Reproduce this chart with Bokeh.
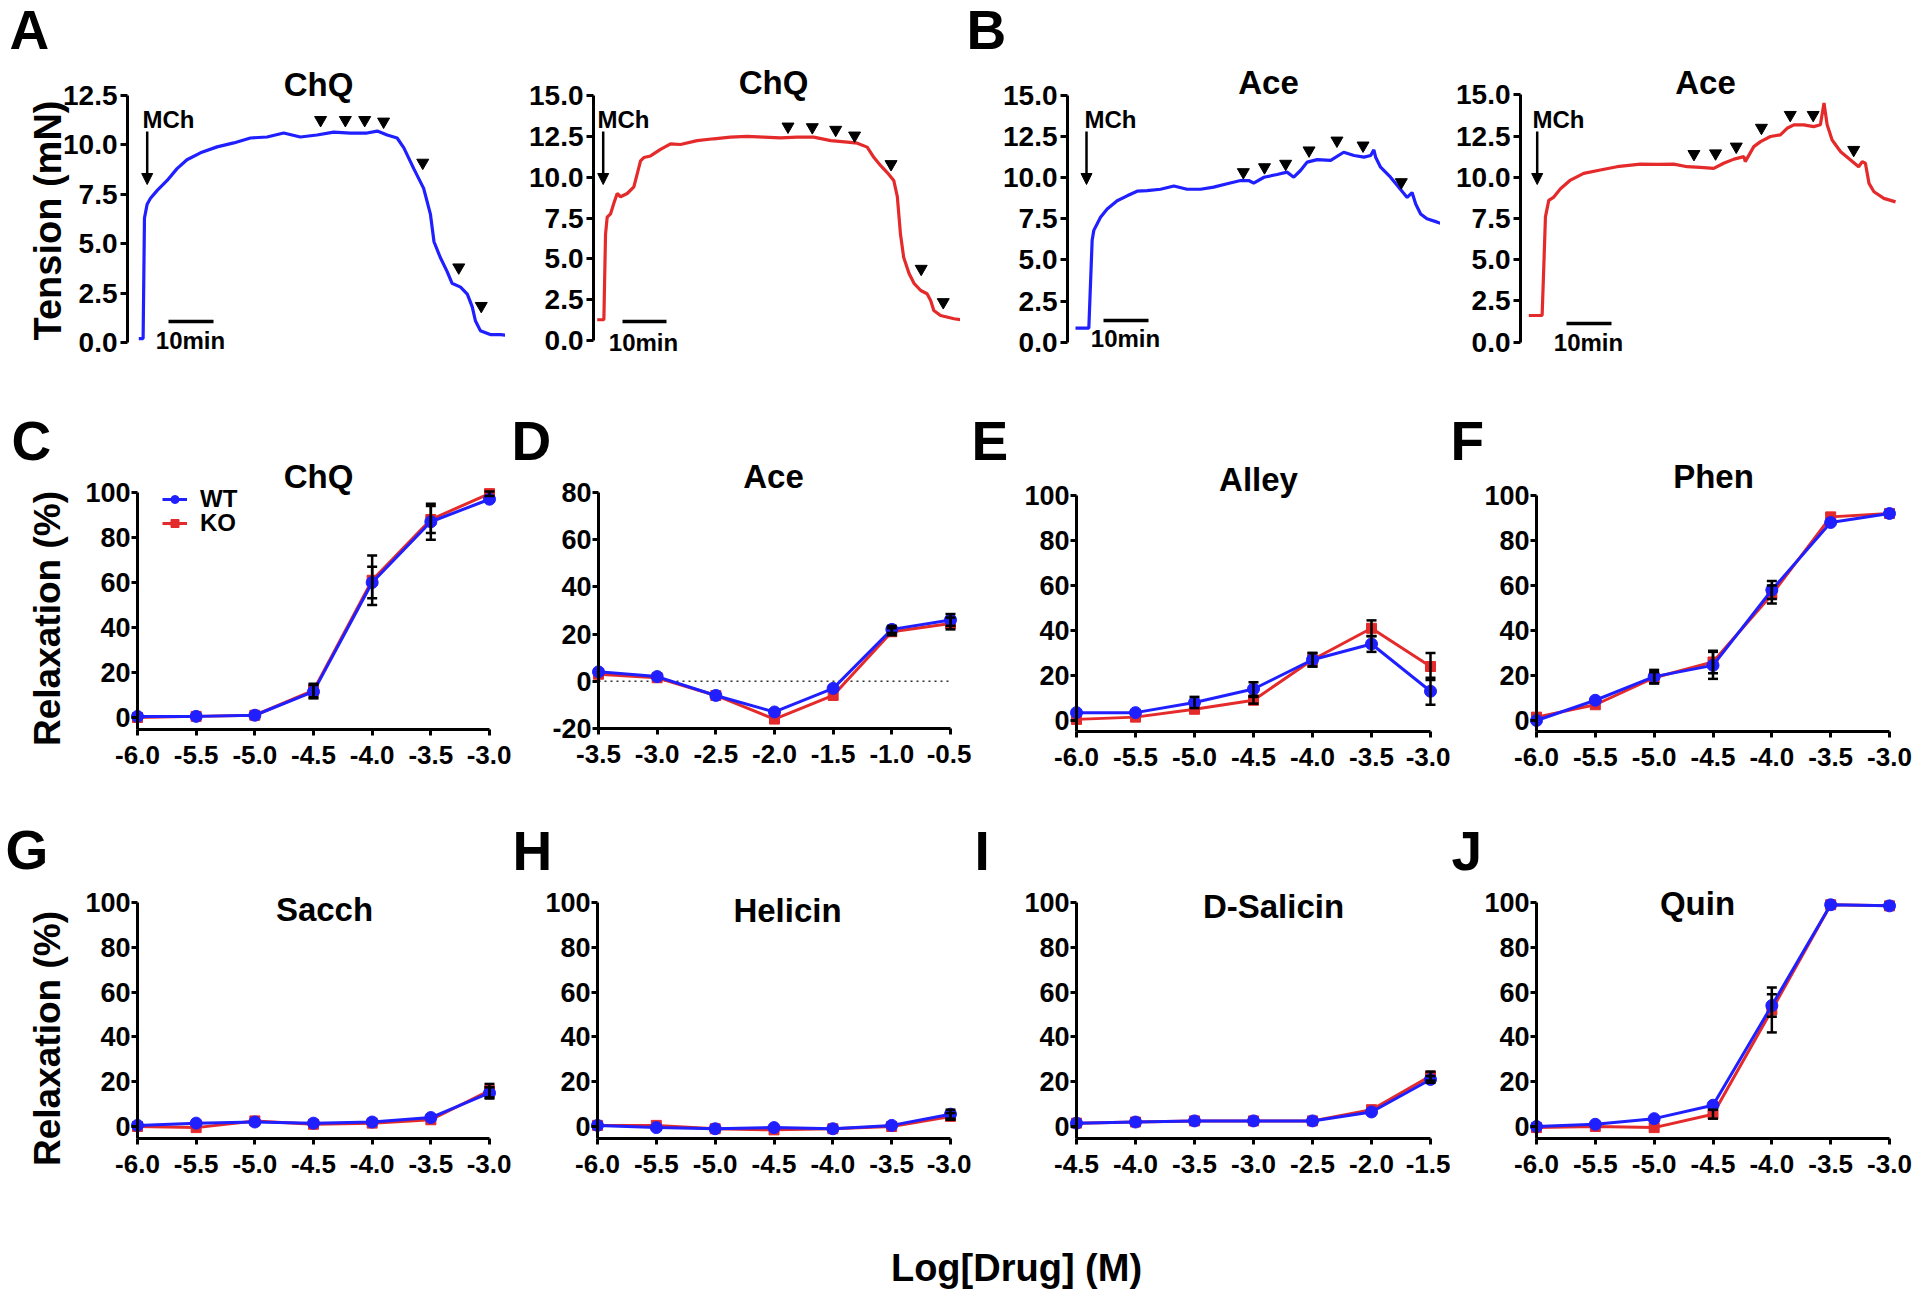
import math
from bokeh.plotting import figure
from bokeh.layouts import row, column
from bokeh.models import (Range1d, LinearAxis, FixedTicker, PrintfTickFormatter, Label, Arrow,
                          NormalHead, Whisker, TeeHead, ColumnDataSource, Legend, LegendItem)
from bokeh.embed import file_html
from bokeh.resources import INLINE

FONT = "Liberation Sans"
BLUE = "#1f1fff"
RED = "#e42a2a"

# ---------------- DATA: isometric tension traces (time in min, tension in mN) ----------------
A1_t = [0, 0.96, 1.26, 1.85, 2.6, 4.1, 6.3, 8.5, 10.7, 13.7, 17.4, 21.1, 24.8, 28.5, 32.2, 35.9,
        39.6, 43.3, 47.0, 50.7, 53.0, 55.2, 57.4, 58.9, 61.1, 63.3, 64.8, 65.6, 67.0, 68.5, 69.6,
        71.5, 73.0, 74.1, 74.8, 75.9, 78.1, 80.4, 82.6]
A1_v = [0.2, 0.2, 6.3, 7.0, 7.3, 7.7, 8.2, 8.8, 9.25, 9.6, 9.9, 10.1, 10.35, 10.4, 10.6, 10.4,
        10.5, 10.65, 10.6, 10.6, 10.7, 10.5, 10.35, 9.85, 8.8, 7.8, 6.5, 5.1, 4.3, 3.6, 3.0,
        2.8, 2.45, 1.8, 1.1, 0.6, 0.4, 0.4, 0.35]
A1_add_t = [40.4, 45.9, 50.2, 54.4, 63.1, 71.1, 76.1]
A1_add_v = [11.26, 11.26, 11.26, 11.18, 9.1, 3.8, 1.85]

A2_t = [0, 1.48, 1.85, 2.22, 2.96, 3.7, 4.44, 5.19, 6.67, 8.15, 9.63, 10.37, 11.85, 14.07, 16.3,
        18.5, 22.2, 25.9, 29.6, 33.3, 37.0, 40.7, 44.4, 48.1, 51.9, 55.6, 57.8, 60.0, 61.5, 63.0,
        64.4, 65.9, 66.7, 67.4, 68.1, 69.3, 70.4, 71.9, 73.3, 74.1, 74.8, 76.3, 79.3, 82.2]
A2_v = [1.27, 1.27, 6.5, 7.55, 7.75, 8.4, 9.0, 8.8, 9.0, 9.4, 11.0, 11.2, 11.3, 11.7, 12.04,
        12.0, 12.24, 12.35, 12.45, 12.5, 12.45, 12.4, 12.45, 12.45, 12.24, 12.14, 12.08, 11.84, 11.2, 10.7,
        10.3, 9.8, 8.8, 6.5, 5.1, 4.1, 3.5, 3.06, 2.86, 2.45, 1.84, 1.53, 1.33, 1.22]
A2_add_t = [42.4, 47.8, 53.0, 57.2, 65.3, 72.0, 76.9]
A2_add_v = [13.1, 13.06, 12.9, 12.55, 10.8, 4.39, 2.35]

B1_t = [0, 2.96, 3.7, 4.07, 5.56, 7.04, 9.26, 11.48, 13.7, 15.9, 18.9, 21.85, 24.8, 27.8, 30.7,
        33.7, 36.7, 38.5, 39.6, 41.9, 44.8, 47.0, 48.5, 50.0, 51.5, 53.7, 56.7, 59.6, 61.9, 64.1,
        65.6, 66.3, 66.7, 67.8, 70.0, 72.2, 73.7, 74.8, 75.6, 76.7, 78.1, 80.4, 81.9]
B1_v = [0.85, 0.85, 6.2, 6.8, 7.6, 8.1, 8.6, 8.9, 9.18, 9.22, 9.3, 9.5, 9.3, 9.3, 9.43,
        9.63, 9.83, 9.83, 9.67, 10.03, 10.2, 10.34, 10.03, 10.44, 10.95, 11.1, 11.05, 11.55, 11.35, 11.25,
        11.35, 11.7, 11.25, 10.64, 10.03, 9.3, 8.8, 9.1, 8.4, 7.8, 7.5, 7.3, 7.15]
B1_add_t = [37.3, 42.0, 46.7, 51.9, 58.1, 63.9, 72.4]
B1_add_v = [10.34, 10.64, 10.85, 11.66, 12.26, 11.96, 9.73]

B2_t = [0, 2.96, 3.33, 3.7, 4.44, 5.56, 7.04, 9.26, 12.2, 15.9, 19.6, 24.8, 28.5, 32.2, 35.2,
        38.1, 41.1, 43.3, 45.6, 47.8, 48.1, 50.0, 51.5, 53.7, 55.9, 57.4, 58.9, 61.1, 63.3, 64.8,
        65.6, 66.3, 67.4, 69.3, 71.5, 73.3, 74.1, 74.8, 75.6, 76.7, 78.9, 81.5]
B2_v = [1.62, 1.62, 4.56, 7.6, 8.6, 8.8, 9.3, 9.83, 10.24, 10.44, 10.64, 10.8, 10.78, 10.8, 10.64,
        10.6, 10.54, 10.85, 11.1, 11.25, 10.95, 11.86, 12.16, 12.47, 12.57, 12.97, 13.18, 13.18, 13.07, 13.18,
        14.5, 13.18, 12.26, 11.55, 11.05, 10.64, 10.95, 10.85, 9.63, 9.12, 8.72, 8.51]
B2_add_t = [36.7, 41.5, 46.1, 51.7, 58.1, 63.2, 72.2]
B2_add_v = [11.41, 11.45, 11.86, 13.0, 13.78, 13.78, 11.66]

TENSION_TICKS_125 = [0.0, 2.5, 5.0, 7.5, 10.0, 12.5]
TENSION_TICKS_15 = [0.0, 2.5, 5.0, 7.5, 10.0, 12.5, 15.0]

# ---------------- DATA: concentration-response (Log[Drug] M vs Relaxation %) ----------------
X_6_3 = [-6.0, -5.5, -5.0, -4.5, -4.0, -3.5, -3.0]
X_ACE = [-3.5, -3.0, -2.5, -2.0, -1.5, -1.0, -0.5]
X_SAL = [-4.5, -4.0, -3.5, -3.0, -2.5, -2.0, -1.5]
Y_TICKS = [0, 20, 40, 60, 80, 100]
Y_TICKS_ACE = [-20, 0, 20, 40, 60, 80]

C_WT = [0.5, 0.5, 1.0, 11.5, 60, 87, 97]
C_KO = [0.0, 0.5, 1.0, 12.0, 61, 88, 99.5]
C_WT_err = [0, 0, 0, 3, 7, 8, 0]
C_KO_err = [0, 0, 0, 3, 11, 6, 1]

D_WT = [4, 2, -6, -13, -3, 22, 26]
D_KO = [3, 1.5, -6, -16, -6, 21, 24.5]
D_WT_err = [0, 0, 0, 0, 0, 1.5, 2.5]
D_KO_err = [0, 0, 0, 0, 0, 1.5, 2.5]

E_WT = [3.5, 3.5, 8, 14, 27, 34, 13]
E_KO = [0.5, 1.5, 5, 9, 27, 41, 24]
E_WT_err = [0, 0, 2.5, 3, 3, 3.5, 6]
E_KO_err = [0, 0, 0, 1.5, 3, 3.5, 6]

F_WT = [0, 9, 19.5, 24.5, 58, 88, 92]
F_KO = [1.5, 7, 19, 26, 56, 90.5, 92]
F_WT_err = [0, 0, 3, 6, 4, 0, 0]
F_KO_err = [0, 0, 2.5, 5, 4, 0, 0]

G_WT = [0.5, 1.5, 2, 1.5, 2, 4, 15]
G_KO = [0, -0.5, 2.5, 1, 1.5, 3, 16]
G_WT_err = [0, 0, 0, 0, 0, 0, 2.5]
G_KO_err = [0, 0, 0, 0, 0, 0, 3]

H_WT = [0.5, -0.5, -1, -0.5, -1, 0.5, 5.5]
H_KO = [0.5, 0.5, -1, -1.5, -1, 0, 4.5]
H_WT_err = [0, 0, 0, 0, 0, 0, 2]
H_KO_err = [0, 0, 0, 0, 0, 0, 1.5]

I_WT = [1.5, 2, 2.5, 2.5, 2.5, 6.5, 21]
I_KO = [1.5, 2, 2.5, 2.5, 2.5, 7.5, 22.5]
I_WT_err = [0, 0, 0, 0, 0, 0, 1.5]
I_KO_err = [0, 0, 0, 0, 0, 0, 2]

J_WT = [0, 1, 3.5, 9.5, 54, 99, 98.5]
J_KO = [-0.5, 0, -0.5, 5.5, 52, 99, 98.5]
J_WT_err = [0, 0, 0, 0, 5, 0, 0]
J_KO_err = [0, 0, 0, 2, 10, 0, 0]

# ---------------- LAYOUT (page pixel boxes) ----------------
COLS = {
    0: [(0, 505), (505, 960), (960, 1440), (1440, 1918)],
    1: [(0, 511), (511, 971), (971, 1450), (1450, 1918)],
    2: [(0, 511), (511, 971), (971, 1450), (1450, 1918)],
    3: [(0, 1918)],
}
ROWS = [(0, 378), (378, 790), (790, 1210), (1210, 1293)]


def new_fig(ci, ri, xr, yr):
    l, r = COLS[ri][ci]
    t, b = ROWS[ri]
    p = figure(width=r - l, height=b - t, x_range=Range1d(*xr), y_range=Range1d(*yr),
               output_backend="svg", toolbar_location=None,
               x_axis_location=None, y_axis_location=None,
               min_border_left=0, min_border_right=0, min_border_top=0, min_border_bottom=0)
    p.outline_line_color = None
    p.xgrid.visible = False
    p.ygrid.visible = False
    p.background_fill_color = "white"
    p.border_fill_color = "white"
    return p, (l, r, t, b)


def txt(p, box, x, y, s, size, align="center", angle=0.0):
    l, r, t, b = box
    p.add_layout(Label(x=x - l, y=b - y, x_units="screen", y_units="screen", text=s,
                       text_font=FONT, text_font_size=f"{size}px", text_font_style="bold",
                       text_color="black", text_align=align, text_baseline="middle", angle=angle))


def screen_arrow(p, box, x0, y0, x1, y1, head=True, width=2.5):
    l, r, t, b = box
    p.add_layout(Arrow(x_start=x0 - l, y_start=b - y0, x_end=x1 - l, y_end=b - y1,
                       start_units="screen", end_units="screen", start=None,
                       end=NormalHead(size=11, fill_color="black", line_color="black", line_width=1) if head else None,
                       line_color="black", line_width=width))


def style_axis(ax, size, standoff, tick_out=6):
    ax.axis_line_width = 3
    ax.axis_line_color = "black"
    ax.major_tick_line_width = 3
    ax.major_tick_line_color = "black"
    ax.major_tick_out = tick_out
    ax.major_tick_in = 0
    ax.minor_tick_line_color = None
    ax.major_label_text_font = FONT
    ax.major_label_text_font_size = f"{size}px"
    ax.major_label_text_font_style = "bold"
    ax.major_label_text_color = "black"
    ax.major_label_standoff = standoff


def trace_panel(ci, t, v, add_t, add_v, color, ymax, ticks, t0_ref, ax_ref, y0_ref, ytop_ref):
    l, r = COLS[0][ci]
    top, bot = ROWS[0]
    kx = 4.5  # px per minute (10 min scale bar = 45 px)
    ky = (y0_ref - ytop_ref) / ymax
    xr = ((l - t0_ref) / kx, (r - t0_ref) / kx)
    yr = ((y0_ref - bot) / ky, (y0_ref - top) / ky)
    p, box = new_fig(ci, 0, xr, yr)
    yax = LinearAxis(fixed_location=(ax_ref - t0_ref) / kx, bounds=(0, ymax),
                     ticker=FixedTicker(ticks=ticks), formatter=PrintfTickFormatter(format="%.1f"))
    style_axis(yax, 28, 3, tick_out=7)
    p.add_layout(yax, "left")
    p.line(t, v, color=color, line_width=3.2)
    p.scatter(add_t, add_v, marker="inverted_triangle", size=12, color="black")
    return p, box


def dose_panel(ci, ri, spec, xs, wt, ko, wt_err, ko_err, yticks, zero_line=False):
    l, r = COLS[ri][ci]
    t, b = ROWS[ri]
    ax_x, x_end, yhi_px, yhi_val, y0_px, y0_val, xaxis_px = spec
    x_first, x_last = xs[0], xs[-1]
    kx = (x_end - ax_x) / (x_last - x_first)
    ky = (y0_px - yhi_px) / (yhi_val - y0_val)
    xr = (x_first - (ax_x - l) / kx, x_first + (r - ax_x) / kx)
    yr = (yhi_val - (b - yhi_px) / ky, yhi_val + (yhi_px - t) / ky)
    xaxis_val = y0_val - (xaxis_px - y0_px) / ky
    p, box = new_fig(ci, ri, xr, yr)
    yax = LinearAxis(fixed_location=x_first, bounds=(xaxis_val, yhi_val),
                     ticker=FixedTicker(ticks=yticks), formatter=PrintfTickFormatter(format="%d"))
    xax = LinearAxis(fixed_location=xaxis_val, bounds=(x_first, x_last),
                     ticker=FixedTicker(ticks=xs), formatter=PrintfTickFormatter(format="%.1f"))
    style_axis(yax, 27, 1)
    style_axis(xax, 26, 10)
    p.add_layout(yax, "left")
    p.add_layout(xax, "below")
    if zero_line:
        p.line([x_first, x_last], [0, 0], color="#333333", line_width=1.6, line_dash="2 4")
    ko_line = p.line(xs, ko, color=RED, line_width=3)
    ko_pts = p.scatter(xs, ko, marker="square", size=10, color=RED)
    wt_line = p.line(xs, wt, color=BLUE, line_width=3)
    wt_pts = p.scatter(xs, wt, marker="circle", size=12, color=BLUE)
    for ys, es in ((ko, ko_err), (wt, wt_err)):
        xx = [x for x, e in zip(xs, es) if e > 0]
        lo = [y - e for y, e in zip(ys, es) if e > 0]
        hi = [y + e for y, e in zip(ys, es) if e > 0]
        if xx:
            src = ColumnDataSource(dict(x=xx, lower=lo, upper=hi))
            p.add_layout(Whisker(source=src, base="x", lower="lower", upper="upper", dimension="height",
                                 line_color="black", line_width=2.5, level="glyph",
                                 upper_head=TeeHead(size=10, line_color="black", line_width=2.5),
                                 lower_head=TeeHead(size=10, line_color="black", line_width=2.5)))
    return p, box, (wt_line, wt_pts), (ko_line, ko_pts)


# ---------------- ROW 1: traces ----------------
pA1, bA1 = trace_panel(0, A1_t, A1_v, A1_add_t, A1_add_v, BLUE, 12.5, TENSION_TICKS_125, 138.3, 127, 342, 95)
pA2, bA2 = trace_panel(1, A2_t, A2_v, A2_add_t, A2_add_v, RED, 15.0, TENSION_TICKS_15, 596.7, 593, 340, 95)
pB1, bB1 = trace_panel(2, B1_t, B1_v, B1_add_t, B1_add_v, BLUE, 15.0, TENSION_TICKS_15, 1075, 1067, 341.7, 95)
pB2, bB2 = trace_panel(3, B2_t, B2_v, B2_add_t, B2_add_v, RED, 15.0, TENSION_TICKS_15, 1528.3, 1520, 341.7, 94.3)

txt(pA1, bA1, 9, 29, "A", 55, align="left")
txt(pB1, bB1, 966, 29, "B", 55, align="left")
txt(pA1, bA1, 47, 220, "Tension (mN)", 38, angle=math.pi / 2)
for p, b, tx, ty, ttl, mx, ax_arrow, sb0, sb1, sby, tx10, ty10 in (
        (pA1, bA1, 318, 84, "ChQ", 142, 146.7, 168, 213, 321, 190, 340),
        (pA2, bA2, 773, 82, "ChQ", 597, 602.7, 622, 666, 321, 643, 342),
        (pB1, bB1, 1268, 82, "Ace", 1084, 1086, 1103, 1148, 320, 1125, 338),
        (pB2, bB2, 1705, 82, "Ace", 1532, 1536.7, 1566, 1611, 323, 1588, 342)):
    txt(p, b, tx, ty, ttl, 33)
    txt(p, b, mx, 119, "MCh", 24, align="left")
    screen_arrow(p, b, ax_arrow, 131, ax_arrow, 184)
    screen_arrow(p, b, sb0, sby, sb1, sby, head=False, width=3.5)
    txt(p, b, tx10, ty10, "10min", 24)

# ---------------- ROW 2 & 3: concentration-response ----------------
pC, bC, wtC, koC = dose_panel(0, 1, (137, 489, 492, 100, 717, 0, 729), X_6_3, C_WT, C_KO, C_WT_err, C_KO_err, Y_TICKS)
pD, bD, _, _ = dose_panel(1, 1, (598, 950, 492, 80, 728, -20, 728), X_ACE, D_WT, D_KO, D_WT_err, D_KO_err, Y_TICKS_ACE, zero_line=True)
pE, bE, _, _ = dose_panel(2, 1, (1076, 1430, 495, 100, 720, 0, 731), X_6_3, E_WT, E_KO, E_WT_err, E_KO_err, Y_TICKS)
pF, bF, _, _ = dose_panel(3, 1, (1536, 1889, 495, 100, 720, 0, 731), X_6_3, F_WT, F_KO, F_WT_err, F_KO_err, Y_TICKS)
pG, bG, _, _ = dose_panel(0, 2, (137, 489, 902, 100, 1126, 0, 1138), X_6_3, G_WT, G_KO, G_WT_err, G_KO_err, Y_TICKS)
pH, bH, _, _ = dose_panel(1, 2, (597, 950, 902, 100, 1126, 0, 1138), X_6_3, H_WT, H_KO, H_WT_err, H_KO_err, Y_TICKS)
pI, bI, _, _ = dose_panel(2, 2, (1076, 1430, 902, 100, 1126, 0, 1138), X_SAL, I_WT, I_KO, I_WT_err, I_KO_err, Y_TICKS)
pJ, bJ, _, _ = dose_panel(3, 2, (1536, 1889, 902, 100, 1126, 0, 1138), X_6_3, J_WT, J_KO, J_WT_err, J_KO_err, Y_TICKS)

for p, b, letter, lx, ly, ttl, tx, ty in (
        (pC, bC, "C", 11, 440, "ChQ", 318, 476),
        (pD, bD, "D", 511, 440, "Ace", 773, 476),
        (pE, bE, "E", 971, 440, "Alley", 1258, 479),
        (pF, bF, "F", 1450, 440, "Phen", 1713, 476),
        (pG, bG, "G", 5, 849, "Sacch", 324, 909),
        (pH, bH, "H", 512, 850, "Helicin", 787, 910),
        (pI, bI, "I", 974, 850, "D-Salicin", 1273, 906),
        (pJ, bJ, "J", 1451, 850, "Quin", 1697, 903)):
    txt(p, b, lx, ly, letter, 55, align="left")
    txt(p, b, tx, ty, ttl, 33)

txt(pC, bC, 47, 618, "Relaxation (%)", 37, angle=math.pi / 2)
txt(pG, bG, 47, 1038, "Relaxation (%)", 37, angle=math.pi / 2)

# legend in C (one legend per entry for exact placement)
for item_label, rends, cy in (("WT", wtC, 500), ("KO", koC, 524)):
    lg = Legend(items=[LegendItem(label=item_label, renderers=list(rends))],
                location=(162 - bC[0], (bC[3] - cy) - 13),
                glyph_width=25, glyph_height=20, label_height=20, label_standoff=13,
                padding=0, margin=0, spacing=0, border_line_color=None, background_fill_alpha=0,
                label_text_font=FONT, label_text_font_size="24px", label_text_font_style="bold",
                label_text_color="black")
    pC.add_layout(lg)

# ---------------- ROW 4: common x label ----------------
pX, bX = new_fig(0, 3, (0, 1), (0, 1))
txt(pX, bX, 1016, 1267, "Log[Drug] (M)", 38)

layout = column(
    row(pA1, pA2, pB1, pB2, spacing=0),
    row(pC, pD, pE, pF, spacing=0),
    row(pG, pH, pI, pJ, spacing=0),
    pX,
    spacing=0,
)

open("out.html", "w").write(file_html(layout, INLINE))
